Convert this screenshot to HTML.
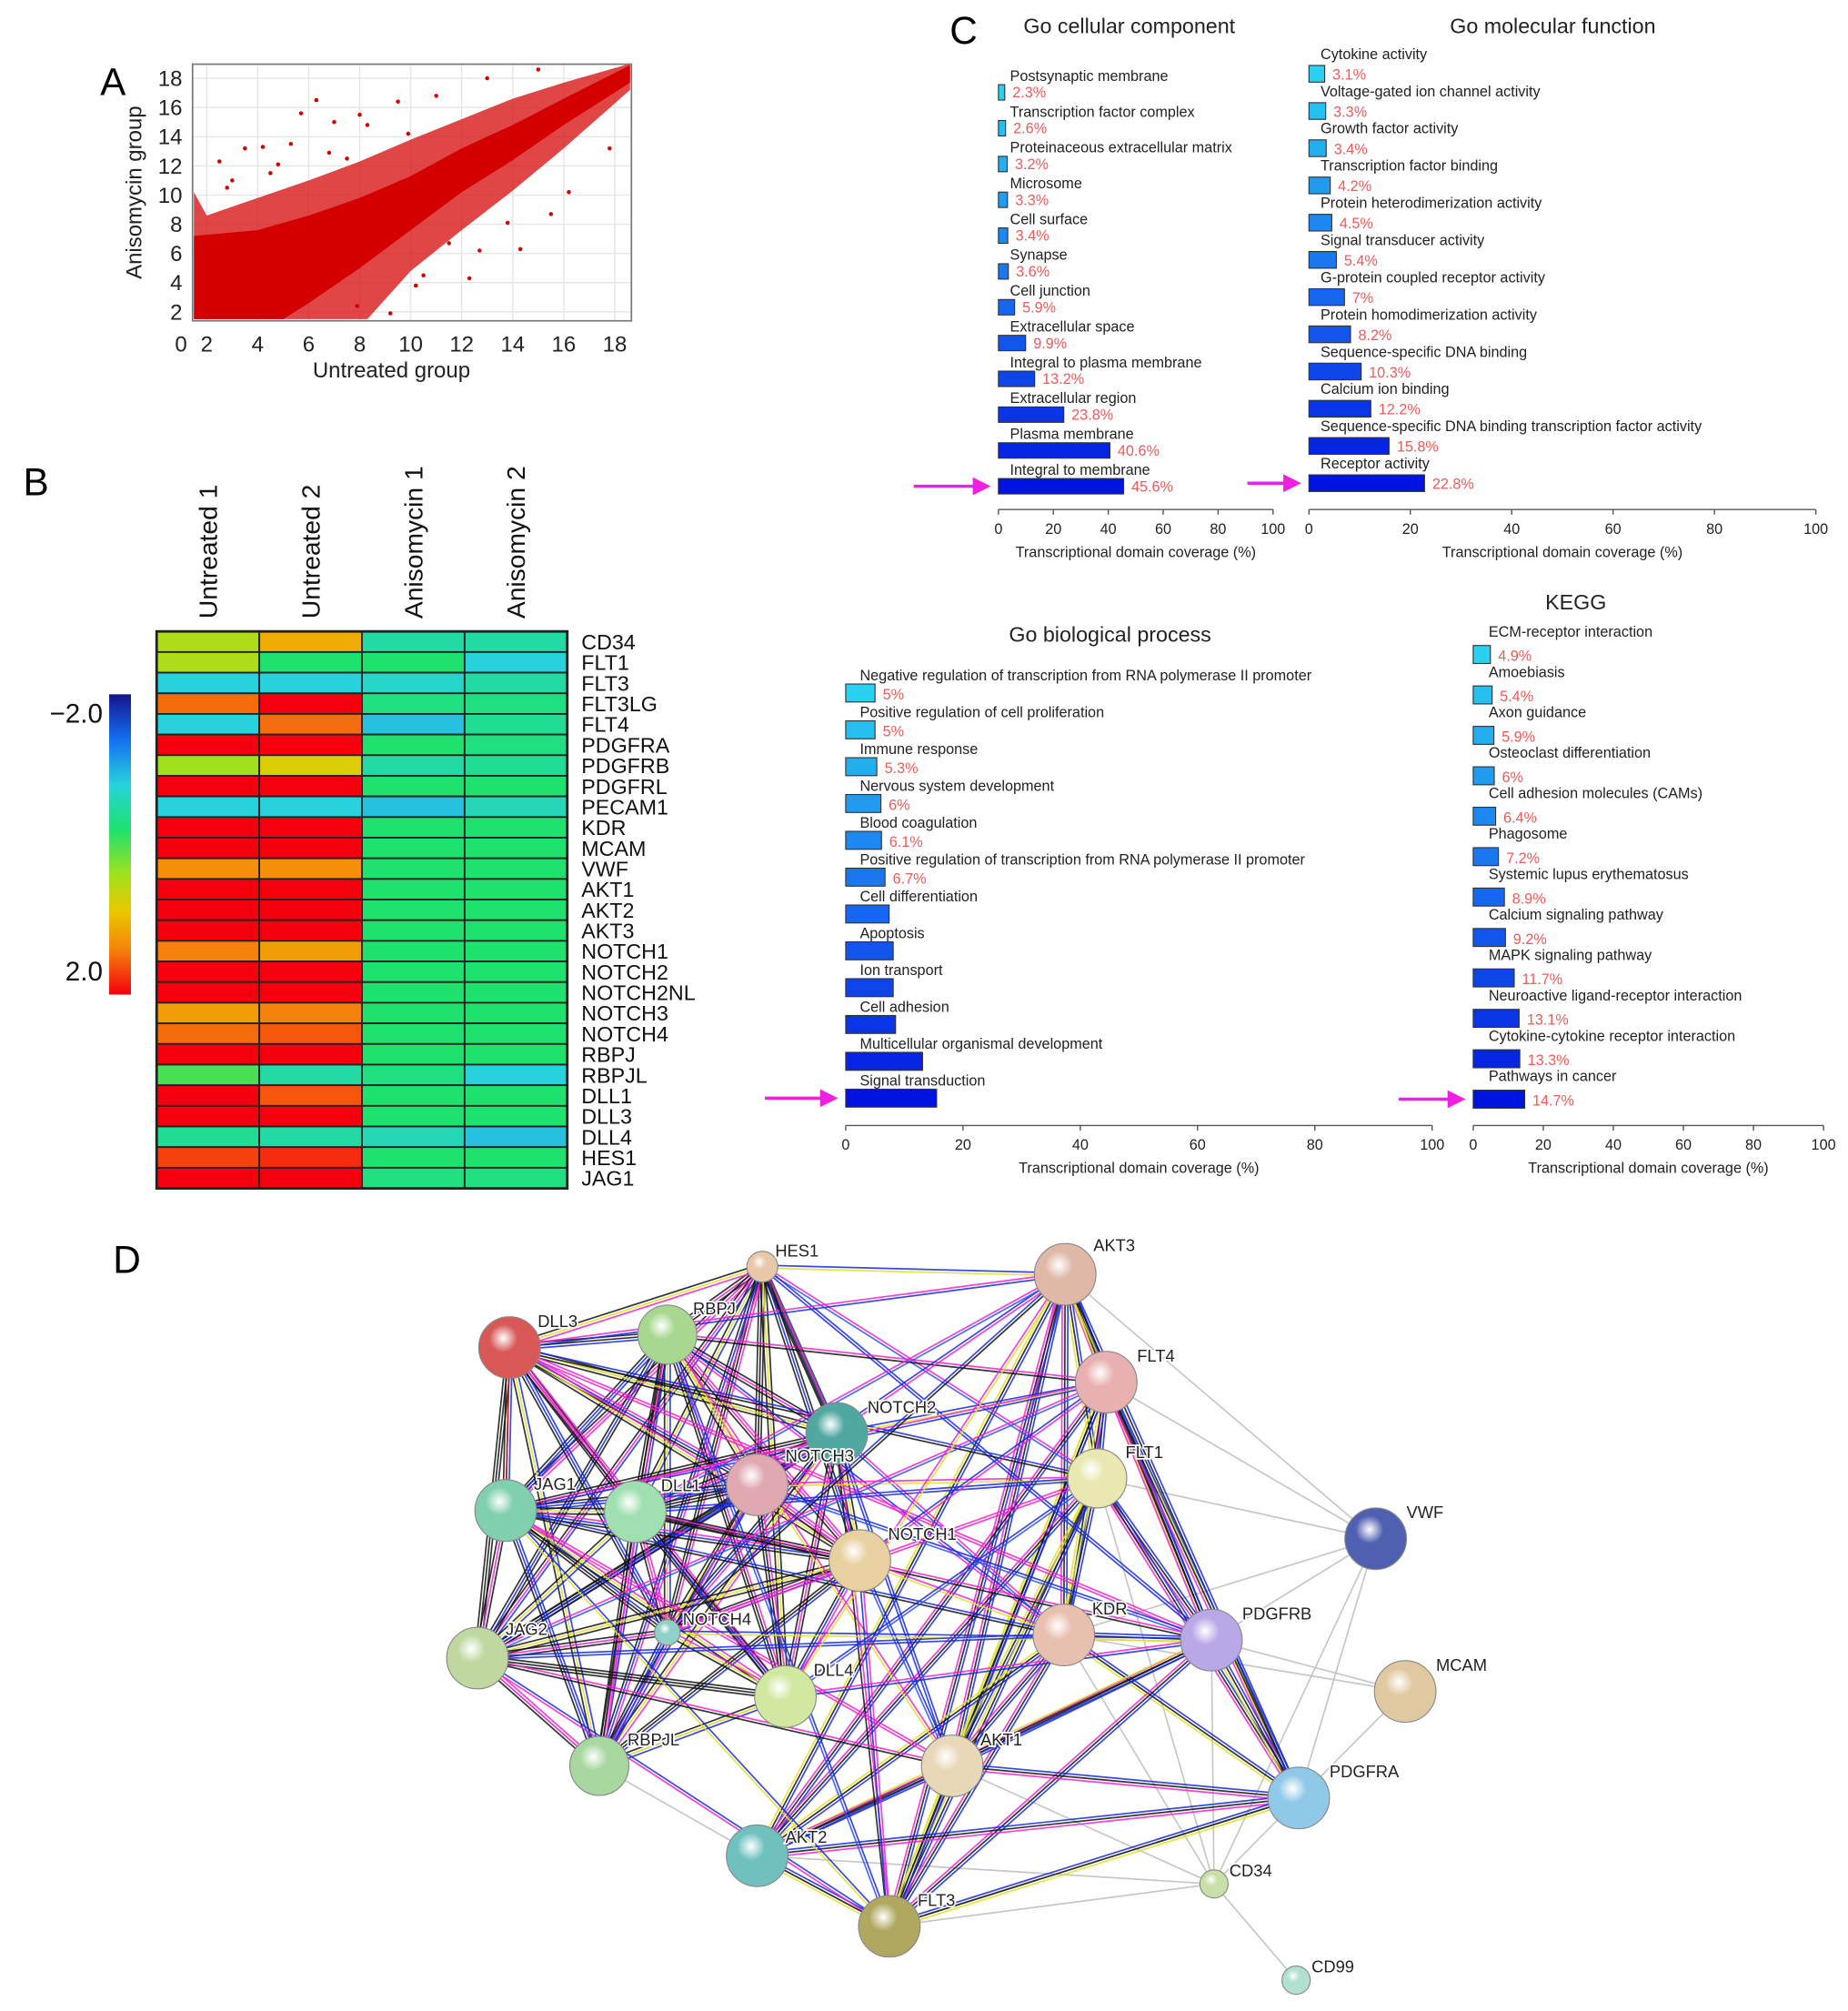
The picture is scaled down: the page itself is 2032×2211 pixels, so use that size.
<!DOCTYPE html>
<html><head><meta charset="utf-8"><title>Anisomycin figure</title>
<style>
html,body{margin:0;padding:0;background:#fff;}
svg{display:block;font-family:"Liberation Sans",Arial,sans-serif;}
</style></head>
<body>
<svg id="fig" width="2032" height="2211" viewBox="0 0 1440 1567" xmlns="http://www.w3.org/2000/svg">
<defs id="defs"></defs>
</svg>
<script>
// ---------- DATA ----------
const scatterOuter = [[1.5,10.2],[2,8.6],[3,9.2],[4,9.8],[6,11],[8,12.3],[10,13.8],[12,15.2],[14,16.6],[16,17.7],[18.6,19],[18.6,17.2],[16,13.2],[14,10.3],[12,7.6],[10,4.8],[8.3,1.5],[1.5,1.5]];
const scatterCore = [[1.5,7.2],[4,7.6],[6,8.6],[8,9.8],[10,11.3],[12,13.2],[14,14.8],[16,16.6],[18.6,18.9],[18.6,17.7],[16,14.8],[14,12.4],[12,10.2],[10,7.6],[8,5],[6,2.6],[5,1.5],[1.5,1.5]];
const outliersX = [6.3,5.7,9.5,11,7,8,3.5,4.2,13,15,17.8,14.3,12.3,9.2,10.5,11.5,4.5,3,2.5,7.5,15.5,8.3,9.9,5.3,2.8,6.8,12.7,16.2,13.8,10.2,7.9,4.8];
const outliersY = [16.5,15.6,16.4,16.8,15,15.5,13.2,13.3,18,18.6,13.2,6.3,4.3,1.9,4.5,6.7,11.5,11,12.3,12.5,8.7,14.8,14.2,13.5,10.5,12.9,6.2,10.2,8.1,3.8,2.4,12.1];
const xTicksA = [2,4,6,8,10,12,14,16,18];
const yTicksA = [2,4,6,8,10,12,14,16,18];

const genes = ["CD34","FLT1","FLT3","FLT3LG","FLT4","PDGFRA","PDGFRB","PDGFRL","PECAM1","KDR","MCAM","VWF","AKT1","AKT2","AKT3","NOTCH1","NOTCH2","NOTCH2NL","NOTCH3","NOTCH4","RBPJ","RBPJL","DLL1","DLL3","DLL4","HES1","JAG1"];
const samples = ["Untreated 1","Untreated 2","Anisomycin 1","Anisomycin 2"];
const heatUntreated1 = [0.5,0.5,-0.8,1.5,-0.8,2,0.4,2,-0.8,2,2,1.3,2,2,2,1.4,2,2,1.2,1.5,2,0,2,2,-0.4,1.7,2];
const heatUntreated2 = [1.1,-0.2,-0.8,2,1.5,2,0.8,2,-0.8,2,2,1.3,2,2,2,1.2,2,2,1.4,1.6,2,-0.5,1.6,2,-0.5,1.8,2];
const heatAniso1 = [-0.5,-0.2,-0.7,-0.3,-0.9,-0.2,-0.5,-0.2,-0.9,-0.2,-0.2,-0.2,-0.2,-0.2,-0.2,-0.2,-0.2,-0.2,-0.2,-0.2,-0.2,-0.3,-0.2,-0.2,-0.6,-0.2,-0.3];
const heatAniso2 = [-0.5,-0.8,-0.5,-0.3,-0.4,-0.3,-0.4,-0.2,-0.6,-0.2,-0.2,-0.2,-0.2,-0.2,-0.2,-0.2,-0.2,-0.2,-0.2,-0.2,-0.2,-0.8,-0.2,-0.2,-0.9,-0.2,-0.3];

const ccCats = ["Postsynaptic membrane","Transcription factor complex","Proteinaceous extracellular matrix","Microsome","Cell surface","Synapse","Cell junction","Extracellular space","Integral to plasma membrane","Extracellular region","Plasma membrane","Integral to membrane"];
const ccVals = [2.3,2.6,3.2,3.3,3.4,3.6,5.9,9.9,13.2,23.8,40.6,45.6];
const ccLabels = ["2.3%","2.6%","3.2%","3.3%","3.4%","3.6%","5.9%","9.9%","13.2%","23.8%","40.6%","45.6%"];
const mfCats = ["Cytokine activity","Voltage-gated ion channel activity","Growth factor activity","Transcription factor binding","Protein heterodimerization activity","Signal transducer activity","G-protein coupled receptor activity","Protein homodimerization activity","Sequence-specific DNA binding","Calcium ion binding","Sequence-specific DNA binding transcription factor activity","Receptor activity"];
const mfVals = [3.1,3.3,3.4,4.2,4.5,5.4,7,8.2,10.3,12.2,15.8,22.8];
const mfLabels = ["3.1%","3.3%","3.4%","4.2%","4.5%","5.4%","7%","8.2%","10.3%","12.2%","15.8%","22.8%"];
const bpCats = ["Negative regulation of transcription from RNA polymerase II promoter","Positive regulation of cell proliferation","Immune response","Nervous system development","Blood coagulation","Positive regulation of transcription from RNA polymerase II promoter","Cell differentiation","Apoptosis","Ion transport","Cell adhesion","Multicellular organismal development","Signal transduction"];
const bpVals = [5,5,5.3,6,6.1,6.7,7.4,8.1,8.1,8.5,13.1,15.5];
const bpLabels = ["5%","5%","5.3%","6%","6.1%","6.7%","","","","","",""];
const kgCats = ["ECM-receptor interaction","Amoebiasis","Axon guidance","Osteoclast differentiation","Cell adhesion molecules (CAMs)","Phagosome","Systemic lupus erythematosus","Calcium signaling pathway","MAPK signaling pathway","Neuroactive ligand-receptor interaction","Cytokine-cytokine receptor interaction","Pathways in cancer"];
const kgVals = [4.9,5.4,5.9,6,6.4,7.2,8.9,9.2,11.7,13.1,13.3,14.7];
const kgLabels = ["4.9%","5.4%","5.9%","6%","6.4%","7.2%","8.9%","9.2%","11.7%","13.1%","13.3%","14.7%"];
const barTicks = [0,20,40,60,80,100];

const nodeNames = ["HES1","RBPJ","DLL3","AKT3","FLT4","NOTCH2","NOTCH3","FLT1","JAG1","DLL1","NOTCH1","VWF","KDR","PDGFRB","NOTCH4","JAG2","DLL4","MCAM","RBPJL","AKT1","PDGFRA","AKT2","CD34","FLT3","CD99"];

// ---------- HELPERS ----------
const NS="http://www.w3.org/2000/svg";
const svg=document.getElementById('fig');
const defs=document.getElementById('defs');
function mk(tag,attrs,parent){const e=document.createElementNS(NS,tag);for(const k in attrs)e.setAttribute(k,attrs[k]);(parent||svg).appendChild(e);return e;}
function txt(s,attrs,parent){const e=mk('text',attrs,parent);e.textContent=s;return e;}
function grp(name,parent){const g=mk('g',{},parent);


return g;}

[["A",78,74],["B",18,386],["C",740,34],["D",88,992]].forEach(p=>{
 const t=txt(p[0],{x:p[1],y:p[2],'font-size':30});
 
 
});

// ---------- PANEL A ----------
(function(){
 const g=grp('scatter-plot');
 const X=v=>161+(v-2)*19.875, Y=v=>243-(v-2)*11.375;
 const L=150,R=492,T=50,B=250;
 xTicksA.forEach(t=>{mk('line',{x1:X(t),x2:X(t),y1:T,y2:B,stroke:'#e6e6e6'},g);});
 yTicksA.forEach(t=>{mk('line',{x1:L,x2:R,y1:Y(t),y2:Y(t),stroke:'#e6e6e6'},g);});
 const clip=mk('clipPath',{id:'clipA'},defs);mk('rect',{x:L,y:T,width:R-L,height:B-T},clip);
 const pg=mk('g',{'clip-path':'url(#clipA)'},g);
 const o=mk('polygon',{points:scatterOuter.map(p=>X(p[0])+','+Y(p[1])).join(' '),fill:'#d81818','fill-opacity':0.8},pg);
 
 
 const c=mk('polygon',{points:scatterCore.map(p=>X(p[0])+','+Y(p[1])).join(' '),fill:'#d40000'},pg);
 
 
 outliersX.forEach((v,i)=>{const d=mk('circle',{cx:X(v),cy:Y(outliersY[i]),r:1.6,fill:'#d40000'},pg);
  
  });
 mk('rect',{x:L,y:T,width:R-L,height:B-T,fill:'none',stroke:'#777','stroke-width':1.2},g);
 xTicksA.forEach(t=>{const e=txt(String(t),{x:X(t),y:274,'font-size':17,'text-anchor':'middle',fill:'#222'},g);
  
  });
 txt("0",{x:141,y:274,'font-size':17,'text-anchor':'middle',fill:'#222'},g);
 yTicksA.forEach(t=>{const e=txt(String(t),{x:142,y:Y(t)+6,'font-size':17,'text-anchor':'end',fill:'#222'},g);
  
  });
 const xt=txt("Untreated group",{x:305,y:294,'font-size':17,'text-anchor':'middle',fill:'#222'},g);
 
 
 const yt=txt("Anisomycin group",{x:0,y:0,'font-size':17,'text-anchor':'middle',fill:'#222',transform:'translate(110,150) rotate(-90)'},g);
 
 
})();

// ---------- PANEL B ----------
const cmapStops=[[-2,[20,20,140]],[-1.4,[20,110,240]],[-0.8,[40,210,220]],[-0.2,[30,225,110]],[0.4,[160,225,30]],[0.9,[235,200,0]],[1.4,[245,130,10]],[2,[245,0,15]]];
function cmap(v){v=Math.max(-2,Math.min(2,v));for(let i=1;i<cmapStops.length;i++){if(v<=cmapStops[i][0]){const a=cmapStops[i-1],b=cmapStops[i];const t=(v-a[0])/(b[0]-a[0]);return 'rgb('+a[1].map((c,j)=>Math.round(c+(b[1][j]-c)*t)).join(',')+')';}}return 'rgb(245,0,15)';}
(function(){
 const g=grp('heatmap');
 const cols=[heatUntreated1,heatUntreated2,heatAniso1,heatAniso2];
 const x0=122,cw=80,y0=492,rh=(926-492)/genes.length;
 cols.forEach((col,ci)=>{col.forEach((v,ri)=>{
  const r=mk('rect',{x:x0+ci*cw,y:y0+ri*rh,width:cw,height:rh,fill:cmap(v),stroke:'#222','stroke-width':1.3},g);
  
  });});
 mk('rect',{x:x0,y:y0,width:cw*4,height:rh*genes.length,fill:'none',stroke:'#222','stroke-width':2},g);
 genes.forEach((n,i)=>{const t=txt(n,{x:453,y:y0+(i+0.5)*rh+6,'font-size':16.5,fill:'#111'},g);
  
  });
 samples.forEach((s,i)=>{const cx=x0+i*cw+cw/2;const t=txt(s,{x:0,y:0,'font-size':20,fill:'#111',transform:`translate(${cx+7},482) rotate(-90)`},g);
  
  });
 const lg=mk('linearGradient',{id:'cbar',x1:0,y1:0,x2:0,y2:1},defs);
 cmapStops.forEach(s=>mk('stop',{offset:((s[0]+2)/4*100)+'%','stop-color':'rgb('+s[1].join(',')+')'},lg));
 const cb=mk('rect',{x:85,y:541,width:17,height:234,fill:'url(#cbar)'},g);
 
 
 txt("\u22122.0",{x:80,y:563,'font-size':21,'text-anchor':'end',fill:'#111'},g);
 txt("2.0",{x:80,y:764,'font-size':21,'text-anchor':'end',fill:'#111'},g);
})();

// ---------- PANEL C ----------
function lerpC(t){const a=[40,210,240],m=[25,110,240],b=[0,20,225];let c;if(t<0.5){const u=t/0.5;c=a.map((v,i)=>v+(m[i]-v)*u);}else{const u=(t-0.5)/0.5;c=m.map((v,i)=>v+(b[i]-v)*u);}return 'rgb('+c.map(Math.round).join(',')+')';}
function barChart(name,cats,vals,labels,L){
 const g=grp(name);
 const X=v=>L.x0+(L.x1-L.x0)*v/100;
 const n=cats.length;
 const tt=txt(L.title,{x:L.tx,y:L.ty,'font-size':16.5,'text-anchor':'middle',fill:'#222'},g);
 
 
 cats.forEach((c,i)=>{
  const ly=L.ly0+i*L.step;
  const t=txt(c,{x:L.lx,y:ly,'font-size':11.5,fill:'#222'},g);
  
  
  const b=mk('rect',{x:X(0),y:ly+L.bo,width:Math.max(1,X(vals[i])-X(0)),height:L.bh,fill:lerpC(i/(n-1)),stroke:'#333','stroke-width':0.8},g);
  
  
  if(labels[i]){const p=txt(labels[i],{x:X(vals[i])+6,y:ly+L.bo+L.bh-2,'font-size':11.5,fill:'#f05a5a'},g);
   
   }
 });
 mk('line',{x1:X(0),x2:X(100),y1:L.ay,y2:L.ay,stroke:'#555','stroke-width':1},g);
 barTicks.forEach(t=>{mk('line',{x1:X(t),x2:X(t),y1:L.ay,y2:L.ay+4,stroke:'#555'},g);
  const e=txt(String(t),{x:X(t),y:L.ay+19,'font-size':11.5,'text-anchor':'middle',fill:'#222'},g);
  
  });
 const at=txt("Transcriptional domain coverage (%)",{x:(X(0)+X(100))/2,y:L.ay+37,'font-size':11.5,'text-anchor':'middle',fill:'#222'},g);
 
 
 const ay=L.ly0+(n-1)*L.step+L.bo+L.bh/2;
 const ar=mk('g',{},g);
 
 
 mk('line',{x1:L.arx,x2:X(0)-18,y1:ay,y2:ay,stroke:'#f020e0','stroke-width':2.5},ar);
 mk('polygon',{points:`${X(0)-6},${ay} ${X(0)-20},${ay-7} ${X(0)-20},${ay+7}`,fill:'#f020e0'},ar);
}
barChart('go-cellular-component-chart',ccCats,ccVals,ccLabels,{x0:778,x1:992,ay:397,lx:787,ly0:63,step:27.9,bo:3,bh:12,title:'Go cellular component',tx:880,ty:26,arx:712});
barChart('go-molecular-function-chart',mfCats,mfVals,mfLabels,{x0:1020,x1:1415,ay:397,lx:1029,ly0:46,step:29.0,bo:5,bh:13,title:'Go molecular function',tx:1210,ty:26,arx:972});
barChart('go-biological-process-chart',bpCats,bpVals,bpLabels,{x0:659,x1:1116,ay:877,lx:670,ly0:530,step:28.7,bo:3,bh:14,title:'Go biological process',tx:865,ty:500,arx:596});
barChart('kegg-chart',kgCats,kgVals,kgLabels,{x0:1148,x1:1421,ay:877,lx:1160,ly0:496,step:31.5,bo:7,bh:14,title:'KEGG',tx:1228,ty:475,arx:1090});

// ---------- PANEL D ----------
(function(){
 const pos={HES1:[594,987,12,'#e8c8a8'],RBPJ:[520,1040,23,'#a8d890'],DLL3:[397,1050,24,'#d85858'],AKT3:[830,993,24,'#e0b8a8'],FLT4:[862,1077,24,'#e8b0b0'],NOTCH2:[652,1117,24,'#50a8a0'],NOTCH3:[590,1157,24,'#e0a8b0'],FLT1:[855,1152,23,'#e8e8b0'],JAG1:[394,1177,24,'#80d0b0'],DLL1:[495,1178,24,'#a0e0b0'],NOTCH1:[670,1216,24,'#e8d0a0'],VWF:[1072,1199,24,'#5060b0'],KDR:[829,1274,24,'#e8c0b0'],PDGFRB:[944,1278,24,'#b8a8e8'],NOTCH4:[520,1272,10,'#90d0c8'],JAG2:[372,1292,24,'#c0d8a0'],DLL4:[612,1322,24,'#d0e8a0'],MCAM:[1095,1318,24,'#e0c8a0'],RBPJL:[467,1376,23,'#a8d8a0'],AKT1:[742,1376,24,'#e8d8b8'],PDGFRA:[1012,1401,24,'#90c8e8'],AKT2:[590,1446,24,'#70c0c0'],CD34:[946,1468,11,'#c8e0a8'],FLT3:[693,1501,24,'#b0a860'],CD99:[1010,1543,11,'#b0e0d0']};
 const labelOff={HES1:[10,-12],RBPJ:[20,-20],DLL3:[22,-20],AKT3:[22,-22],FLT4:[24,-20],NOTCH2:[24,-20],NOTCH3:[22,-22],FLT1:[22,-20],JAG1:[22,-20],DLL1:[20,-20],NOTCH1:[22,-20],VWF:[24,-20],KDR:[22,-20],PDGFRB:[24,-20],NOTCH4:[12,-10],JAG2:[22,-22],DLL4:[22,-20],MCAM:[24,-20],RBPJL:[22,-20],AKT1:[22,-20],PDGFRA:[24,-20],AKT2:[22,-14],CD34:[12,-10],FLT3:[22,-20],CD99:[12,-10]};
 const g=grp('interaction-network');
 const eg=grp('network-edges',g);
 const core=["HES1","RBPJ","DLL3","NOTCH2","NOTCH3","JAG1","DLL1","NOTCH1","NOTCH4","JAG2","DLL4","RBPJL"];
 const kin=["AKT3","FLT4","FLT1","KDR","PDGFRB","AKT1","AKT2","FLT3","PDGFRA"];
 const pal=['#1428e0','#111','#f020d0','#e0e020','#3050f0','#888'];
 function edge(a,b,k,colors){const A=pos[a],B=pos[b];const dx=B[0]-A[0],dy=B[1]-A[1],L=Math.hypot(dx,dy);const nx=-dy/L,ny=dx/L;
  for(let j=0;j<k;j++){const o=(j-(k-1)/2)*2.2;const l=mk('line',{x1:A[0]+nx*o,y1:A[1]+ny*o,x2:B[0]+nx*o,y2:B[1]+ny*o,stroke:colors[j%colors.length],'stroke-width':1.2,'stroke-opacity':0.85},eg);
   
   }}
 const grey=[["VWF","PDGFRB"],["VWF","KDR"],["VWF","FLT1"],["VWF","CD34"],["VWF","PDGFRA"],["MCAM","PDGFRB"],["MCAM","KDR"],["MCAM","CD34"],["CD34","CD99"],["CD34","FLT3"],["CD34","KDR"],["CD34","FLT1"],["CD34","AKT1"],["CD34","PDGFRB"],["DLL3","JAG1"],["DLL3","NOTCH2"],["JAG2","RBPJL"],["RBPJL","AKT2"],["FLT4","VWF"],["AKT3","VWF"],["FLT3","PDGFRA"],["RBPJL","DLL4"],["AKT2","FLT3"],["CD34","AKT2"]];
 grey.forEach(p=>edge(p[0],p[1],1,['#bdbdbd']));
 let h=0;
 for(let i=0;i<core.length;i++)for(let j=i+1;j<core.length;j++){h++;edge(core[i],core[j],3,[pal[h%3],pal[(h+1)%4],pal[1]]);}
 for(let i=0;i<kin.length;i++)for(let j=i+1;j<kin.length;j++){h++;edge(kin[i],kin[j],3,[pal[0],pal[1],pal[(h%2)?2:3]]);}
 core.forEach((c,i)=>kin.forEach((k,j)=>{if((i+j)%2===0 && k!=='PDGFRA' && k!=='AKT2' && c!=='RBPJL'){h++;edge(c,k,2,[pal[(i+j)%4],pal[(h)%5]]);}}));
 edge("DLL3","JAG1",1,['#e02020']);edge("HES1","NOTCH2",2,['#e02020','#111']);
 const ng=grp('network-nodes',g);
 nodeNames.forEach((n,i)=>{const p=pos[n];
  const rg=mk('radialGradient',{id:'ng'+i,cx:'40%',cy:'35%',r:'65%'},defs);
  mk('stop',{offset:'0%','stop-color':'#ffffff'},rg);
  mk('stop',{offset:'35%','stop-color':p[3]},rg);
  mk('stop',{offset:'100%','stop-color':p[3],'stop-opacity':1},rg);
  const c=mk('circle',{cx:p[0],cy:p[1],r:p[2],fill:'url(#ng'+i+')',stroke:'#888','stroke-width':0.8},ng);
  
  
  const o=labelOff[n];
  const t=txt(n,{x:p[0]+o[0],y:p[1]+o[1]+4,'font-size':13,fill:'#222',stroke:'#fff','stroke-width':2.5,'paint-order':'stroke'},ng);
  
  
 });
})();
</script>
</body></html>
